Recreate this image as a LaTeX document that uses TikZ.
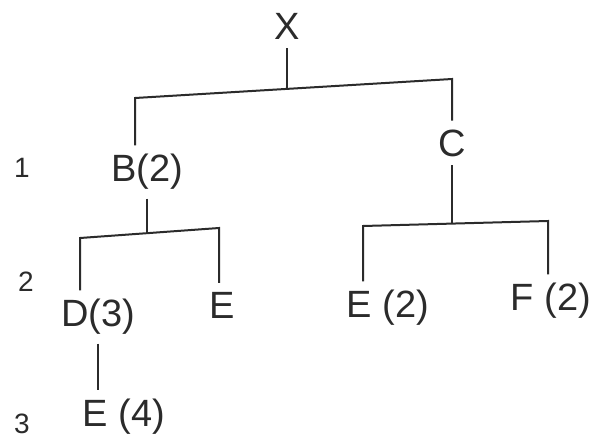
\documentclass[tikz,border=0pt]{standalone}
\usepackage{fontspec}
\setmainfont{Liberation Sans}
\usepackage{tikz}
\usetikzlibrary{positioning}
\definecolor{pencil}{HTML}{2B2B2B}

\begin{document}
\begin{tikzpicture}[x=1pt,y=-1pt,
    every node/.style={inner sep=4pt,text=pencil},
    key/.style={font=\fontsize{38}{40}\selectfont,outer sep=5pt},
    lvl/.style={font=\fontsize{28}{30}\selectfont},
    branch/.style={draw=pencil,line width=2pt}]
  \useasboundingbox (0,0) rectangle (596,442);
  % level numbers
  \node[lvl] (l1) at (22,168) {1};
  \node[lvl] (l2) at (26,282) {2};
  \node[lvl] (l3) at (22,424) {3};
  % tree nodes
  \node[key] (x) at (287,26) {X};
  \node[key] (b) at (147,172) {B(2)};
  \node[key] (c) at (452,143) {C};
  \node[key] (d) at (98,317) {D(3)};
  \node[key] (e) at (222,305) {E};
  \node[key] (e4) at (124,417) {E (4)};
  \node[key] (e2) at (388,308) {E (2)};
  \node[key] (f2) at (551,301) {F (2)};
  % branch points
  \coordinate (jx) at (287,89);
  \coordinate (jl) at (135,98);
  \coordinate (jr) at (452,79);
  \coordinate (jb) at (147,233);
  \coordinate (jd) at (80,238);
  \coordinate (je) at (219,228);
  \coordinate (jc) at (452,224);
  \coordinate (je2) at (363,226);
  \coordinate (jf) at (548,221);
  % connectors
  \draw[branch] (x) -- (jx);
  \draw[branch] (jl |- b.north) -- (jl) -- (jr) -- (jr |- c.north);
  \draw[branch] (b) -- (jb);
  \draw[branch] (jd |- d.north) -- (jd) -- (je) -- (je |- e.north);
  \draw[branch] (d.south) -- (d.south |- e4.north);
  \draw[branch] (c) -- (jc);
  \draw[branch] (je2 |- e2.north) -- (je2) -- (jf) -- (jf |- f2.north);
\end{tikzpicture}
\end{document}
